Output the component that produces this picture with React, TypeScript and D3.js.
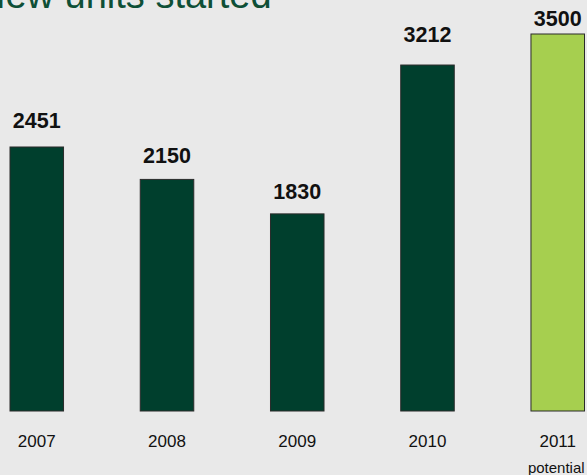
import React from "react";
import * as d3 from "d3";

const years = ["2007", "2008", "2009", "2010", "2011"];
const values = [2451, 2150, 1830, 3212, 3500];
const isPotential = [false, false, false, false, true];
const title = "New units started";
const potentialNote = "potential";

const W = 587;
const H = 475;

export default function App() {
  const x = d3
    .scaleBand<string>()
    .domain(years)
    .range([10, 584.5])
    .paddingInner(0.589)
    .paddingOuter(0);
  const y = d3.scaleLinear().domain([0, 3500]).range([411, 34]);
  const labelY = d3.scaleLinear().domain([0, 3500]).range([407.7, 8.7]);
  const font = "'Liberation Sans', Arial, Helvetica, sans-serif";

  return (
    <svg
      width={W}
      height={H}
      style={{ position: "fixed", left: 0, top: 0, display: "block" }}
      fontFamily={font}
    >
      <rect x={0} y={0} width={W} height={H} fill="#e9e9e9" />
      <text x={-22} y={7.5} fontSize={38} fill="#0e4f36">
        {title}
      </text>
      {years.map((yr, i) => {
        const bx = x(yr)!;
        const bw = x.bandwidth();
        const cx = bx + bw / 2;
        const top = y(values[i]);
        return (
          <g key={yr}>
            <rect
              x={bx}
              y={top}
              width={bw}
              height={y(0) - top}
              fill={isPotential[i] ? "#a6cf4f" : "#003f2d"}
              stroke="#2b2b2b"
              strokeWidth={1}
            />
            <text
              x={cx}
              y={Math.max(26, labelY(values[i]))}
              textAnchor="middle"
              fontSize={21.5}
              fontWeight="bold"
              fill="#111"
            >
              {values[i]}
            </text>
            <text x={cx} y={446.5} textAnchor="middle" fontSize={17} fill="#111">
              {yr}
            </text>
            {isPotential[i] && (
              <text x={cx - 1.5} y={473} textAnchor="middle" fontSize={15} fill="#111">
                {potentialNote}
              </text>
            )}
          </g>
        );
      })}
    </svg>
  );
}
